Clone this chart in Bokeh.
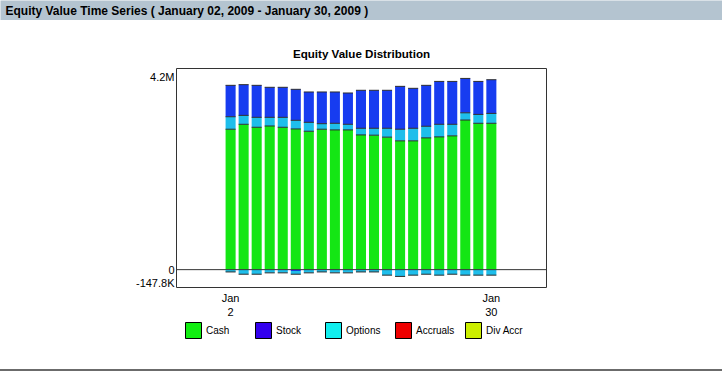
import numpy as np
from bokeh.plotting import figure
from bokeh.models import (ColumnDataSource, FixedTicker, Span, Legend, LegendItem,
                          Label, Range1d)
from bokeh.layouts import column
from bokeh.embed import file_html
from bokeh.resources import INLINE

# ---------------- data (values in thousands of dollars) ----------------
dates = ["Jan 2", "Jan 5", "Jan 6", "Jan 7", "Jan 8", "Jan 9", "Jan 12", "Jan 13",
         "Jan 14", "Jan 15", "Jan 16", "Jan 19", "Jan 20", "Jan 21", "Jan 22",
         "Jan 23", "Jan 26", "Jan 27", "Jan 28", "Jan 29", "Jan 30"]
x_tick_labels = {0: "Jan\n2", 20: "Jan\n30"}

cash = [3068, 3176, 3111, 3139, 3111, 3074, 3024, 3068, 3053, 3053, 2944,
        2938, 2895, 2814, 2814, 2879, 2901, 2923, 3269, 3198, 3198]
options = [273, 195, 217, 189, 217, 189, 195, 121, 145, 123, 145,
           151, 194, 254, 275, 254, 275, 253, 158, 194, 216]
stock = [686, 671, 699, 656, 656, 677, 663, 693, 684, 684, 830,
         830, 830, 937, 873, 894, 937, 937, 751, 721, 736]
accruals = [0] * 21
div_accr = [0] * 21
stock_neg = [0, 0, 0, 0, 0, -30, 0, 0, 0, 0, 0,
             0, 0, 0, 0, 0, 0, 0, 0, 0, 0]
options_neg = [-50, -100, -100, -70, -70, -70, -70, -50, -70, -70, -50,
               -50, -120, -147.8, -120, -100, -120, -100, -120, -120, -120]

y_ticks = [-300000, 0, 4200000]
y_tick_labels = {-300000: "-147.8K", 0: "0", 4200000: "4.2M"}

header_text = "Equity Value Time Series ( January 02, 2009 - January 30, 2009 )"
chart_title = "Equity Value Distribution"
series_names = ["Cash", "Stock", "Options", "Accruals", "Div Accr"]
legend_colors = ["#11EE11", "#3300EE", "#11EEEE", "#EE0000", "#CCEE00"]
bar_green, bar_blue, bar_cyan = "#14E614", "#173CF0", "#1EBEEB"
edge = "#2E2E2E"

# ---------------- derived stacks ----------------
K = 1000.0
x = np.arange(len(dates))
c = np.array(cash) * K
o = np.array(options) * K
s = np.array(stock) * K
a = np.array(accruals) * K
d = np.array(div_accr) * K
sn = np.array(stock_neg) * K
on = np.array(options_neg) * K
W = 0.77

src = ColumnDataSource(dict(
    x=x, xl=x - W / 2, xr=x + W / 2, zero=np.zeros(len(x)),
    cash_top=c, opt_top=c + o, stock_top=c + o + s,
    acc_top=c + o + s + a, div_top=c + o + s + a + d,
    sneg=sn, oneg=sn + on,
))
stacks = [("zero", "cash_top"), ("cash_top", "opt_top"), ("opt_top", "stock_top"),
          ("stock_top", "acc_top"), ("acc_top", "div_top")]

# ---------------- header strip ----------------
hdr = figure(width=722, height=20, output_backend="svg", toolbar_location=None,
             x_range=Range1d(0, 722), y_range=Range1d(0, 20),
             min_border=0, x_axis_type=None, y_axis_type=None)
hdr.frame_align = False
hdr.background_fill_color = "#B4C4D0"
hdr.border_fill_color = "#B4C4D0"
hdr.outline_line_color = None
hdr.grid.visible = False
hdr.add_layout(Label(x=5, y=10, text=header_text, text_font="Liberation Sans",
                     text_font_style="bold", text_font_size="12px",
                     text_baseline="middle", text_color="#000000"))

# ---------------- main chart ----------------
p = figure(width=722, height=300, output_backend="svg", toolbar_location=None,
           x_range=Range1d(-4.15, 24.23), y_range=Range1d(-390000, 4395000),
           min_border_left=176, min_border_right=176, min_border_top=48,
           min_border_bottom=31, title=chart_title)
p.frame_align = False
p.title.align = "center"
p.title.text_font = "Liberation Sans"
p.title.text_font_style = "bold"
p.title.text_font_size = "11.6px"
p.title.text_color = "#000000"
p.title.standoff = 18
p.grid.visible = False
p.outline_line_color = "#333333"
p.outline_line_width = 1
p.background_fill_color = "#FFFFFF"
p.border_fill_color = "#FFFFFF"

bar_cols = [bar_green, bar_cyan, bar_blue, "#EE0000", "#CCEE00"]
for (b, t), col in zip(stacks, bar_cols):
    p.vbar(x="x", bottom=b, top=t, width=W, source=src, fill_color=col, line_color=None)
p.vbar(x="x", bottom="zero", top="sneg", width=W, source=src, fill_color=bar_blue, line_color=None)
p.vbar(x="x", bottom="sneg", top="oneg", width=W, source=src, fill_color=bar_cyan, line_color=None)
for col in ["cash_top", "opt_top", "stock_top", "oneg"]:
    p.segment(x0="xl", x1="xr", y0=col, y1=col, source=src, line_color=edge, line_width=1)

p.add_layout(Span(location=0, dimension="width", line_color="#333333", line_width=1))

xa = p.xaxis[0]
xa.ticker = FixedTicker(ticks=list(x_tick_labels.keys()))
xa.major_label_overrides = x_tick_labels
xa.axis_line_color = None
xa.major_tick_line_color = None
xa.minor_tick_line_color = None
xa.major_tick_out = 0
xa.major_tick_in = 0
xa.major_label_standoff = 4
xa.major_label_text_font = "Liberation Sans"
xa.major_label_text_font_size = "11px"
xa.major_label_text_color = "#000000"

ya = p.yaxis[0]
ya.ticker = FixedTicker(ticks=y_ticks)
ya.major_label_overrides = y_tick_labels
ya.axis_line_color = None
ya.major_tick_line_color = None
ya.minor_tick_line_color = None
ya.major_tick_out = 0
ya.major_tick_in = 0
ya.major_label_standoff = 2
ya.major_label_text_font = "Liberation Sans"
ya.major_label_text_font_size = "11px"
ya.major_label_text_color = "#000000"

# ---------------- legend strip (with bottom rule) ----------------
lg = figure(width=722, height=52, output_backend="svg", toolbar_location=None,
            x_range=Range1d(-4.15, 24.23), y_range=Range1d(-390000, 4395000),
            min_border=0, x_axis_type=None, y_axis_type=None)
lg.frame_align = False
lg.grid.visible = False
lg.outline_line_color = None
lg.background_fill_alpha = 0
lg.border_fill_alpha = 0
lg.styles = {"background": "linear-gradient(to bottom, #FFFFFF 0px, #FFFFFF 49px, "
                           "#6B6B6B 49px, #6B6B6B 51px, #FFFFFF 51px)"}

legend_stacks = [stacks[0], stacks[2], stacks[1], stacks[3], stacks[4]]
items = []
for name, col, (b, t) in zip(series_names, legend_colors, legend_stacks):
    r = lg.vbar(x="x", bottom=b, top=t, width=W, source=src, fill_color=col,
                line_color="#000000", visible=False)
    items.append(LegendItem(label=name, renderers=[r]))
leg = Legend(items=items, orientation="horizontal", location=(183, 32),
             glyph_width=20, glyph_height=20, label_standoff=3, label_width=43,
             spacing=4, padding=0, margin=0,
             border_line_color=None, background_fill_alpha=0,
             inactive_fill_alpha=0,
             label_text_font="Liberation Sans", label_text_font_size="10px",
             label_text_color="#000000")
lg.add_layout(leg)

layout = column(hdr, p, lg, spacing=0)
open("out.html", "w").write(file_html(layout, INLINE))
